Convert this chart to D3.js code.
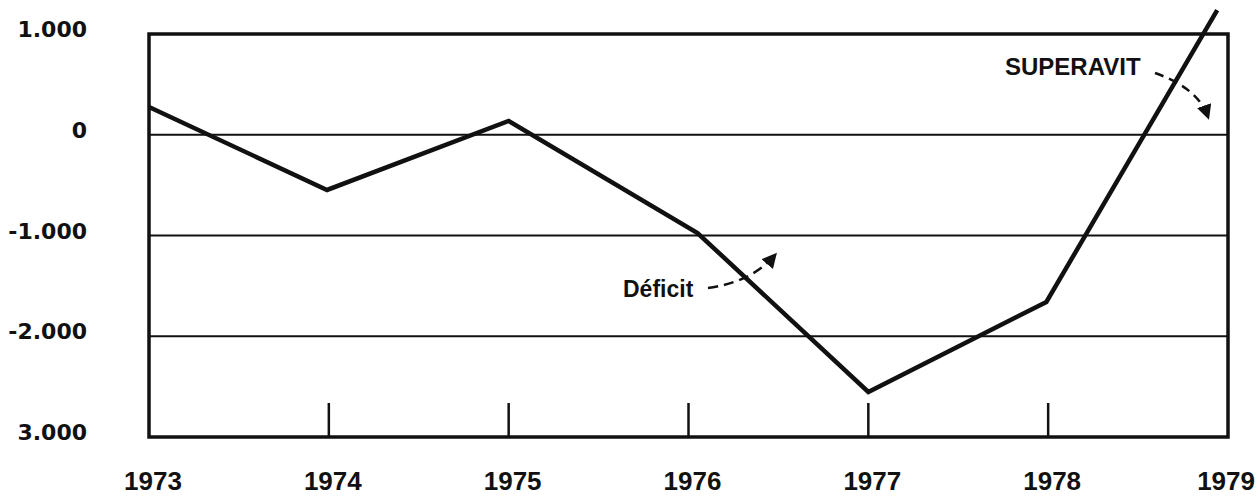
<!DOCTYPE html>
<html><head><meta charset="utf-8">
<script src="https://cdn.jsdelivr.net/npm/d3@7"></script>
<style>html,body{margin:0;padding:0;background:#fff}svg{display:block}</style>
</head><body><div id="chart"></div>
<script>
// Data
const years = [1973, 1973.99, 1975.0, 1976.05, 1977.0, 1977.99, 1978.94];
const balance = [275, -548, 137, -975, -2553, -1660, 1238];
const yTickValues = [1000, 0, -1000, -2000, -3000];
const yTickLabels = ["1.000", "0", "-1.000", "-2.000", "3.000"];
const xTickValues = [1973, 1974, 1975, 1976, 1977, 1978, 1979];
const xTickLabels = ["1973", "1974", "1975", "1976", "1977", "1978", "1979"];
const gridValues = [0, -1000, -2000];
const innerTicks = [1974, 1975, 1976, 1977, 1978];

const W = 1258, H = 499;
const svg = d3.select("#chart").append("svg").attr("width", W).attr("height", H);

const x = d3.scaleLinear().domain([1973, 1979]).range([149, 1228]);
const y = d3.scaleLinear().domain([1000, -3000]).range([34, 437]);

const defs = svg.append("defs");
defs.append("marker").attr("id", "ah").attr("viewBox", "0 0 10 10")
  .attr("refX", 8).attr("refY", 5).attr("markerWidth", 6).attr("markerHeight", 6)
  .attr("markerUnits", "strokeWidth").attr("orient", "auto")
  .append("path").attr("d", "M0,0 L10,5 L0,10 Z").attr("fill", "#111");

// gridlines
svg.selectAll("line.grid").data(gridValues).enter().append("line")
  .attr("x1", x(1973)).attr("x2", x(1979))
  .attr("y1", d => y(d)).attr("y2", d => y(d))
  .attr("stroke", "#111").attr("stroke-width", 2);

// frame
svg.append("rect").attr("x", x(1973)).attr("y", y(1000))
  .attr("width", x(1979) - x(1973)).attr("height", y(-3000) - y(1000))
  .attr("fill", "none").attr("stroke", "#111").attr("stroke-width", 3.5);

// inner ticks on bottom
svg.selectAll("line.tick").data(innerTicks).enter().append("line")
  .attr("x1", d => x(d)).attr("x2", d => x(d))
  .attr("y1", y(-3000)).attr("y2", y(-3000) - 34)
  .attr("stroke", "#111").attr("stroke-width", 2.5);

// y labels
svg.selectAll("text.ylab").data(yTickValues).enter().append("text")
  .attr("x", 87).attr("y", d => y(d) + 3)
  .attr("text-anchor", "end")
  .attr("font-family", "DejaVu Sans, sans-serif").attr("font-weight", "bold")
  .attr("font-size", 22).attr("fill", "#111")
  .text((d, i) => yTickLabels[i]);

// x labels
svg.selectAll("text.xlab").data(xTickValues).enter().append("text")
  .attr("x", (d, i) => i === xTickValues.length - 1 ? W - 3 : x(d) + 4)
  .attr("y", 490)
  .attr("text-anchor", (d, i) => i === xTickValues.length - 1 ? "end" : "middle")
  .attr("font-family", "Liberation Sans, Arial, sans-serif").attr("font-weight", "bold")
  .attr("font-size", 26).attr("fill", "#111")
  .text((d, i) => xTickLabels[i]);

// data line
const line = d3.line().x(d => x(d[0])).y(d => y(d[1]));
svg.append("path").datum(years.map((yr, i) => [yr, balance[i]]))
  .attr("d", line).attr("fill", "none").attr("stroke", "#111")
  .attr("stroke-width", 4.5).attr("stroke-linejoin", "miter");

// annotations
svg.append("text").attr("x", 623).attr("y", 297)
  .attr("font-family", "Liberation Sans, Arial, sans-serif").attr("font-weight", "bold")
  .attr("font-size", 23).attr("fill", "#111").text("Déficit");
svg.append("path").attr("d", "M708,288 Q752,282 775,255")
  .attr("fill", "none").attr("stroke", "#111").attr("stroke-width", 2.5)
  .attr("stroke-dasharray", "10,6").attr("marker-end", "url(#ah)");

svg.append("text").attr("x", 1005).attr("y", 75)
  .attr("font-family", "Liberation Sans, Arial, sans-serif").attr("font-weight", "bold")
  .attr("font-size", 24).attr("fill", "#111").text("SUPERAVIT");
svg.append("path").attr("d", "M1155,73 Q1198,88 1208,117")
  .attr("fill", "none").attr("stroke", "#111").attr("stroke-width", 2.5)
  .attr("stroke-dasharray", "9,6").attr("marker-end", "url(#ah)");
</script>
</body></html>
